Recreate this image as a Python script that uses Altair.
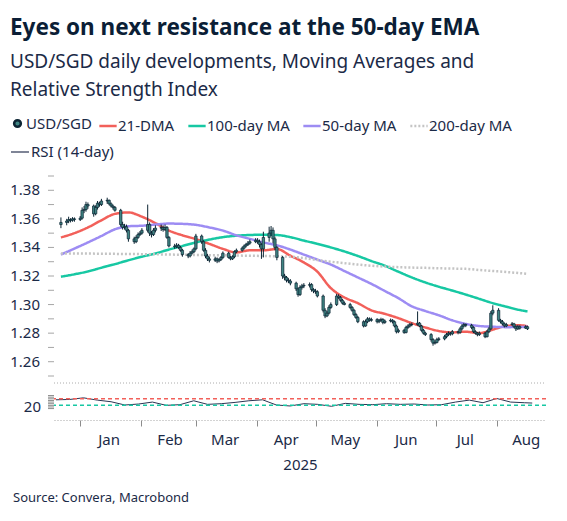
import altair as alt
import pandas as pd

# USD/SGD daily candles, business days 20 Dec 2024 - 19 Aug 2025
first_open = 1.3560
close = [
    1.3575, 1.3585, 1.3595, 1.3590, 1.3600, 1.3595, 1.3605, 1.3660,  # Dec
    1.3665, 1.3700, 1.3690, 1.3635, 1.3680, 1.3710, 1.3700, 1.3725, 1.3730, 1.3705, 1.3690, 1.3680,
    1.3660, 1.3560, 1.3540, 1.3545, 1.3520, 1.3460, 1.3440, 1.3470, 1.3490, 1.3500, 1.3520,  # Jan
    1.3560, 1.3500, 1.3490, 1.3520, 1.3535, 1.3540, 1.3525, 1.3540, 1.3470, 1.3410,
    1.3405, 1.3415, 1.3400, 1.3380, 1.3350, 1.3340, 1.3360, 1.3370, 1.3390, 1.3480,  # Feb
    1.3440, 1.3380, 1.3340, 1.3320, 1.3310, 1.3320, 1.3305, 1.3315, 1.3330, 1.3360, 1.3330,
    1.3320, 1.3335, 1.3370, 1.3380, 1.3395, 1.3410, 1.3420, 1.3430, 1.3440, 1.3450,  # Mar
    1.3440, 1.3420, 1.3390, 1.3470, 1.3500, 1.3520, 1.3460, 1.3400, 1.3330, 1.3200, 1.3190,
    1.3170, 1.3165, 1.3150, 1.3110, 1.3070, 1.3120, 1.3130, 1.3135, 1.3140, 1.3105, 1.3095,  # Apr
    1.3090, 1.3060, 1.2960, 1.2920, 1.2940, 1.2980, 1.3000, 1.3060, 1.3050, 1.3030, 1.3010,
    1.3000, 1.2980, 1.2960, 1.2930, 1.2910, 1.2880, 1.2850, 1.2880, 1.2900, 1.2890, 1.2895,  # May
    1.2880, 1.2890, 1.2895, 1.2875, 1.2885, 1.2890, 1.2880, 1.2850, 1.2810, 1.2820, 1.2805,
    1.2840, 1.2850, 1.2860, 1.2860, 1.2870, 1.2850, 1.2820, 1.2800, 1.2790, 1.2755,  # Jun
    1.2730, 1.2735, 1.2755, 1.2760, 1.2775, 1.2790, 1.2800, 1.2795, 1.2810, 1.2805, 1.2830, 1.2850,
    1.2860, 1.2855, 1.2840, 1.2810, 1.2800, 1.2790, 1.2800, 1.2775, 1.2810, 1.2830, 1.2940,  # Jul
    1.2960, 1.2890, 1.2880, 1.2865, 1.2850, 1.2860, 1.2865, 1.2845, 1.2830, 1.2845, 1.2835,
    1.2845, 1.2830,  # Aug
]
high = [
    1.3610, 1.3600, 1.3615, 1.3605, 1.3612, 1.3610, 1.3620, 1.3680,
    1.3690, 1.3720, 1.3715, 1.3700, 1.3695, 1.3725, 1.3720, 1.3740, 1.3748, 1.3735, 1.3715, 1.3700,
    1.3690, 1.3670, 1.3580, 1.3565, 1.3560, 1.3530, 1.3475, 1.3485, 1.3505, 1.3515, 1.3535,
    1.3700, 1.3575, 1.3515, 1.3535, 1.3555, 1.3560, 1.3555, 1.3560, 1.3550, 1.3480,
    1.3425, 1.3430, 1.3425, 1.3410, 1.3390, 1.3360, 1.3375, 1.3385, 1.3400, 1.3495,
    1.3490, 1.3450, 1.3395, 1.3355, 1.3335, 1.3335, 1.3330, 1.3325, 1.3340, 1.3372, 1.3370,
    1.3340, 1.3345, 1.3380, 1.3392, 1.3405, 1.3420, 1.3432, 1.3445, 1.3455, 1.3465,
    1.3465, 1.3455, 1.3430, 1.3510, 1.3545, 1.3550, 1.3540, 1.3475, 1.3410, 1.3340, 1.3215,
    1.3200, 1.3185, 1.3178, 1.3160, 1.3120, 1.3135, 1.3145, 1.3150, 1.3155, 1.3150, 1.3115,
    1.3110, 1.3100, 1.3070, 1.2975, 1.2955, 1.2995, 1.3015, 1.3075, 1.3072, 1.3060, 1.3040,
    1.3022, 1.3012, 1.2990, 1.2970, 1.2942, 1.2920, 1.2890, 1.2895, 1.2912, 1.2910, 1.2908,
    1.2905, 1.2900, 1.2908, 1.2905, 1.2895, 1.2902, 1.2898, 1.2888, 1.2860, 1.2832, 1.2830,
    1.2852, 1.2862, 1.2872, 1.2875, 1.2952, 1.2878, 1.2858, 1.2830, 1.2810, 1.2800,
    1.2765, 1.2750, 1.2768, 1.2772, 1.2788, 1.2802, 1.2812, 1.2808, 1.2822, 1.2818, 1.2842, 1.2862,
    1.2872, 1.2868, 1.2865, 1.2848, 1.2820, 1.2808, 1.2812, 1.2808, 1.2822, 1.2842, 1.2955,
    1.2995, 1.2975, 1.2900, 1.2892, 1.2875, 1.2872, 1.2878, 1.2872, 1.2855, 1.2858, 1.2855,
    1.2855, 1.2852,
]
low = [
    1.3535, 1.3555, 1.3570, 1.3575, 1.3580, 1.3580, 1.3585, 1.3595,
    1.3640, 1.3650, 1.3670, 1.3615, 1.3625, 1.3665, 1.3685, 1.3690, 1.3705, 1.3695, 1.3680, 1.3665,
    1.3650, 1.3545, 1.3525, 1.3525, 1.3505, 1.3440, 1.3425, 1.3430, 1.3460, 1.3480, 1.3490,
    1.3505, 1.3480, 1.3470, 1.3480, 1.3505, 1.3515, 1.3510, 1.3515, 1.3460, 1.3400,
    1.3390, 1.3395, 1.3390, 1.3370, 1.3335, 1.3325, 1.3330, 1.3350, 1.3360, 1.3380,
    1.3425, 1.3370, 1.3325, 1.3305, 1.3295, 1.3298, 1.3290, 1.3295, 1.3305, 1.3320, 1.3322,
    1.3310, 1.3312, 1.3325, 1.3360, 1.3370, 1.3385, 1.3400, 1.3410, 1.3420, 1.3430,
    1.3425, 1.3400, 1.3320, 1.3330, 1.3440, 1.3480, 1.3430, 1.3380, 1.3310, 1.3180, 1.3170,
    1.3155, 1.3150, 1.3135, 1.3095, 1.3055, 1.3060, 1.3105, 1.3115, 1.3120, 1.3090, 1.3080,
    1.3075, 1.3050, 1.2945, 1.2905, 1.2912, 1.2930, 1.2970, 1.2990, 1.3040, 1.3020, 1.3000,
    1.2995, 1.2970, 1.2950, 1.2920, 1.2900, 1.2870, 1.2840, 1.2845, 1.2870, 1.2880, 1.2880,
    1.2868, 1.2870, 1.2880, 1.2862, 1.2865, 1.2875, 1.2868, 1.2840, 1.2798, 1.2800, 1.2795,
    1.2798, 1.2830, 1.2840, 1.2848, 1.2852, 1.2842, 1.2810, 1.2790, 1.2780, 1.2740,
    1.2712, 1.2720, 1.2728, 1.2745, 1.2750, 1.2765, 1.2780, 1.2782, 1.2785, 1.2792, 1.2795, 1.2820,
    1.2840, 1.2842, 1.2828, 1.2800, 1.2790, 1.2778, 1.2780, 1.2765, 1.2770, 1.2800, 1.2822,
    1.2925, 1.2880, 1.2868, 1.2855, 1.2840, 1.2842, 1.2852, 1.2835, 1.2815, 1.2822, 1.2825,
    1.2830, 1.2822,
]

# weekly readings of the moving averages and the RSI
week_dates = [
    "2024-12-20", "2024-12-27", "2025-01-03", "2025-01-10", "2025-01-17", "2025-01-24",
    "2025-01-31", "2025-02-07", "2025-02-14", "2025-02-21", "2025-02-28", "2025-03-07",
    "2025-03-14", "2025-03-21", "2025-03-28", "2025-04-04", "2025-04-11", "2025-04-18",
    "2025-04-25", "2025-05-02", "2025-05-09", "2025-05-16", "2025-05-23", "2025-05-30",
    "2025-06-06", "2025-06-13", "2025-06-20", "2025-06-27", "2025-07-04", "2025-07-11",
    "2025-07-18", "2025-07-25", "2025-08-01", "2025-08-08", "2025-08-15", "2025-08-19",
]
ma21 = [1.3470, 1.3500, 1.3540, 1.3590, 1.3635, 1.3645, 1.3615, 1.3570, 1.3518, 1.3485,
        1.3458, 1.3425, 1.3390, 1.3365, 1.3380, 1.3380, 1.3389, 1.3342, 1.3295, 1.3230,
        1.3115, 1.3050, 1.3010, 1.2960, 1.2935, 1.2905, 1.2870, 1.2840, 1.2815, 1.2805,
        1.2810, 1.2800, 1.2825, 1.2850, 1.2855, 1.2848]
ma50 = [1.3350, 1.3392, 1.3435, 1.3480, 1.3527, 1.3548, 1.3552, 1.3560, 1.3567, 1.3565,
        1.3558, 1.3540, 1.3518, 1.3485, 1.3460, 1.3435, 1.3415, 1.3385, 1.3350, 1.3315,
        1.3280, 1.3235, 1.3190, 1.3145, 1.3095, 1.3045, 1.2988, 1.2955, 1.2925, 1.2890,
        1.2865, 1.2850, 1.2845, 1.2842, 1.2843, 1.2845]
ma100 = [1.3195, 1.3212, 1.3232, 1.3258, 1.3283, 1.3310, 1.3335, 1.3358, 1.3385, 1.3410,
         1.3435, 1.3455, 1.3472, 1.3482, 1.3487, 1.3489, 1.3487, 1.3472, 1.3448, 1.3425,
         1.3400, 1.3372, 1.3340, 1.3305, 1.3272, 1.3230, 1.3190, 1.3155, 1.3125, 1.3098,
         1.3070, 1.3040, 1.3010, 1.2985, 1.2962, 1.2952]
ma200 = [1.3358, 1.3358, 1.3357, 1.3356, 1.3355, 1.3354, 1.3353, 1.3352, 1.3350, 1.3349,
         1.3347, 1.3346, 1.3345, 1.3343, 1.3342, 1.3340, 1.3338, 1.3335, 1.3325, 1.3312,
         1.3300, 1.3290, 1.3280, 1.3272, 1.3266, 1.3262, 1.3259, 1.3257, 1.3254, 1.3252,
         1.3250, 1.3242, 1.3235, 1.3228, 1.3220, 1.3215]
rsi = [64, 66, 76, 62, 52, 32, 38, 50, 30, 34, 58, 36, 40, 48, 58, 64, 32, 26,
       40, 36, 24, 42, 36, 34, 40, 36, 38, 32, 34, 50, 62, 46, 72, 50, 46, 44]
rsi_levels = [70, 30]

ma_names = ["21-DMA", "100-day MA", "50-day MA", "200-day MA"]
ma_colors = ["#f2605a", "#17c8a3", "#9d8cf3", "#c4c4c4"]
ma_dashes = [[1, 0], [1, 0], [1, 0], [2, 2]]
ma_widths = [2.5, 2.5, 2.5, 2]
pair_name = "USD/SGD"
rsi_name = "RSI (14-day)"
month_ticks = [alt.DateTime(year=2025, month=m, date=1) for m in range(1, 9)]
price_labels = [1.26, 1.28, 1.30, 1.32, 1.34, 1.36, 1.38]
price_ticks = [1.25, 1.26, 1.27, 1.28, 1.29, 1.30, 1.31, 1.32, 1.33, 1.34, 1.35, 1.36, 1.37, 1.38, 1.39]
rsi_labels = [20]
rsi_ticks = [10, 20, 30, 40, 50, 60, 70, 80, 90]

FONT = "Noto Sans"
NAVY = "#1b2a47"
GREY = "#a6a6a6"
CANDLE = "#0c2433"
RSI_COLOR = "#2b3452"

n = len(close)
days = pd.bdate_range("2024-12-20", "2025-08-19")
assert len(days) == n == len(high) == len(low), (len(days), n, len(high), len(low))
candles = pd.DataFrame({
    "date": days.strftime("%Y-%m-%dT00:00:00"),
    "open": [first_open] + close[:-1],
    "close": close,
    "high": high,
    "low": low,
    "name": pair_name,
})

weeks = [d + "T00:00:00" for d in week_dates]
ma = pd.DataFrame({"date": weeks, "21-DMA": ma21, "100-day MA": ma100,
                   "50-day MA": ma50, "200-day MA": ma200})
ma_long = ma.melt("date", var_name="series", value_name="value")
rsi_df = pd.DataFrame({"date": weeks, "rsi": rsi})
levels = pd.DataFrame({"level": rsi_levels, "kind": ["high", "low"]})

xscale = alt.Scale(domain=[alt.DateTime(year=2024, month=12, date=19),
                           alt.DateTime(year=2025, month=8, date=26)])
yscale = alt.Scale(domain=[1.25, 1.39], zero=False, nice=False)
rsi_scale = alt.Scale(domain=[-60, 167], zero=False, nice=False)

legend_text = dict(labelFont=FONT, labelFontSize=15, labelColor=NAVY, labelLimit=200)
ma_legend = alt.Legend(title=None, orient="none", legendX=44, legendY=-60, direction="horizontal",
                       columns=4, symbolType="stroke", symbolSize=300, labelOffset=0,
                       columnPadding=8, **legend_text)
pair_legend = alt.Legend(title=None, orient="none", legendX=-44, legendY=-60,
                         symbolType="circle", symbolSize=45, symbolStrokeColor=CANDLE,
                         symbolStrokeWidth=2.5, labelOffset=1, **legend_text)
rsi_legend = alt.Legend(title=None, orient="none", legendX=-44, legendY=-34,
                        symbolType="stroke", symbolSize=324, symbolStrokeColor=RSI_COLOR,
                        symbolStrokeWidth=1.2, labelOffset=1, **legend_text)

# ---- price panel
lines = alt.Chart(ma_long).mark_line(interpolate="monotone").encode(
    x=alt.X("date:T", scale=xscale,
            axis=alt.Axis(labels=False, ticks=False, title=None, grid=False,
                          domainColor="#c2c2c2", domainWidth=1.2)),
    y=alt.Y("value:Q", scale=yscale, title=None,
            axis=alt.Axis(labels=False, ticks=False, grid=False,
                          domainColor=GREY, domainDash=[1, 2])),
    color=alt.Color("series:N", scale=alt.Scale(domain=ma_names, range=ma_colors), legend=ma_legend),
    strokeDash=alt.StrokeDash("series:N", scale=alt.Scale(domain=ma_names, range=ma_dashes), legend=ma_legend),
    strokeWidth=alt.StrokeWidth("series:N", scale=alt.Scale(domain=ma_names, range=ma_widths), legend=ma_legend),
)
price_tick_marks = alt.Chart(pd.DataFrame({"tick": price_ticks})).mark_rule(
    color=GREY, strokeWidth=1).encode(
    y=alt.Y("tick:Q", axis=None), x=alt.value(-6), x2=alt.value(0))
price_tick_text = alt.Chart(pd.DataFrame({"tick": price_labels})).mark_text(
    align="right", baseline="middle", font=FONT, fontSize=15, color=NAVY).encode(
    y=alt.Y("tick:Q", axis=None), x=alt.value(-14), text=alt.Text("tick:Q", format=".2f"))

wicks = alt.Chart(candles).mark_rule(color=CANDLE, strokeWidth=1).encode(
    x=alt.X("date:T", axis=None), y=alt.Y("low:Q", axis=None), y2="high:Q")
bodies = alt.Chart(candles).mark_bar(size=2.4, stroke=CANDLE, strokeWidth=0.7).encode(
    x=alt.X("date:T", axis=None), y=alt.Y("open:Q", axis=None), y2="close:Q",
    fill=alt.Fill("name:N", scale=alt.Scale(domain=[pair_name], range=["#3f8583"]), legend=pair_legend),
)
# zero-length rule that only carries the RSI legend entry
rsi_key = alt.Chart(pd.DataFrame({"name": [rsi_name]})).mark_rule(color=RSI_COLOR).encode(
    x=alt.value(0), x2=alt.value(0), y=alt.value(0),
    opacity=alt.Opacity("name:O", scale=alt.Scale(domain=[rsi_name], range=[1]), legend=rsi_legend),
)

main = alt.layer(lines, price_tick_marks, price_tick_text, wicks, bodies, rsi_key).properties(
    width=492, height=200)

# ---- RSI panel
rsi_line = alt.Chart(rsi_df).mark_line(color=RSI_COLOR, strokeWidth=1).encode(
    x=alt.X("date:T", scale=xscale, title="2025",
            axis=alt.Axis(values=month_ticks, format="%b", labelOffset=29, grid=False,
                          labelOverlap=False, tickSize=6, tickColor="#8c8c8c",
                          domainColor=GREY, domainDash=[1, 2],
                          labelFont=FONT, labelFontSize=15, labelColor=NAVY, labelPadding=6,
                          titleFont=FONT, titleFontSize=15, titleFontWeight="normal",
                          titleColor=NAVY, titlePadding=10)),
    y=alt.Y("rsi:Q", scale=rsi_scale, title=None,
            axis=alt.Axis(labels=False, ticks=False, grid=False, domainColor=GREY, domainDash=[1, 2])),
)
rsi_tick_marks = alt.Chart(pd.DataFrame({"tick": rsi_ticks})).mark_rule(
    color="#8c8c8c", strokeWidth=1).encode(
    y=alt.Y("tick:Q", axis=None), x=alt.value(-6), x2=alt.value(0))
rsi_tick_text = alt.Chart(pd.DataFrame({"tick": rsi_labels})).mark_text(
    align="right", baseline="middle", font=FONT, fontSize=15, color=NAVY).encode(
    y=alt.Y("tick:Q", axis=None), x=alt.value(-13), text=alt.Text("tick:Q", format="d"))
hi_rule = alt.Chart(levels).transform_filter("datum.kind == 'high'").mark_rule(
    color="#f2605a", strokeDash=[4, 3], strokeWidth=1.5).encode(y=alt.Y("level:Q", axis=None))
lo_rule = alt.Chart(levels).transform_filter("datum.kind == 'low'").mark_rule(
    color="#17c8a3", strokeDash=[4, 3], strokeWidth=1.5).encode(y=alt.Y("level:Q", axis=None))
top_border = alt.Chart(levels).mark_rule(color="#c8c8c8", strokeDash=[1, 2]).encode(
    x=alt.value(0), x2=alt.value(492), y=alt.value(0))

rsi_panel = alt.layer(rsi_line, rsi_tick_marks, rsi_tick_text, hi_rule, lo_rule, top_border).properties(
    width=492, height=37,
    title=alt.TitleParams("Source: Convera, Macrobond", orient="bottom", anchor="start",
                          frame="group", dx=-41, font=FONT, fontSize=13, fontWeight="normal",
                          color=NAVY, offset=20),
)

chart = alt.vconcat(main, rsi_panel, spacing=5).properties(
    padding={"left": 2, "top": 8, "right": 5, "bottom": 3},
    background="white",
    title=alt.TitleParams(
        "Eyes on next resistance at the 50-day EMA",
        subtitle=["USD/SGD daily developments, Moving Averages and", "Relative Strength Index"],
        anchor="start", font=FONT, fontSize=22.5, fontWeight="bold", color="#0b1e36",
        subtitleFont=FONT, subtitleFontSize=19, subtitleColor=NAVY,
        subtitlePadding=14, subtitleLineHeight=28, offset=16,
    ),
).configure_view(strokeWidth=0, stroke="transparent")

chart.save("out.html", embed_options={"renderer": "svg", "actions": False})
